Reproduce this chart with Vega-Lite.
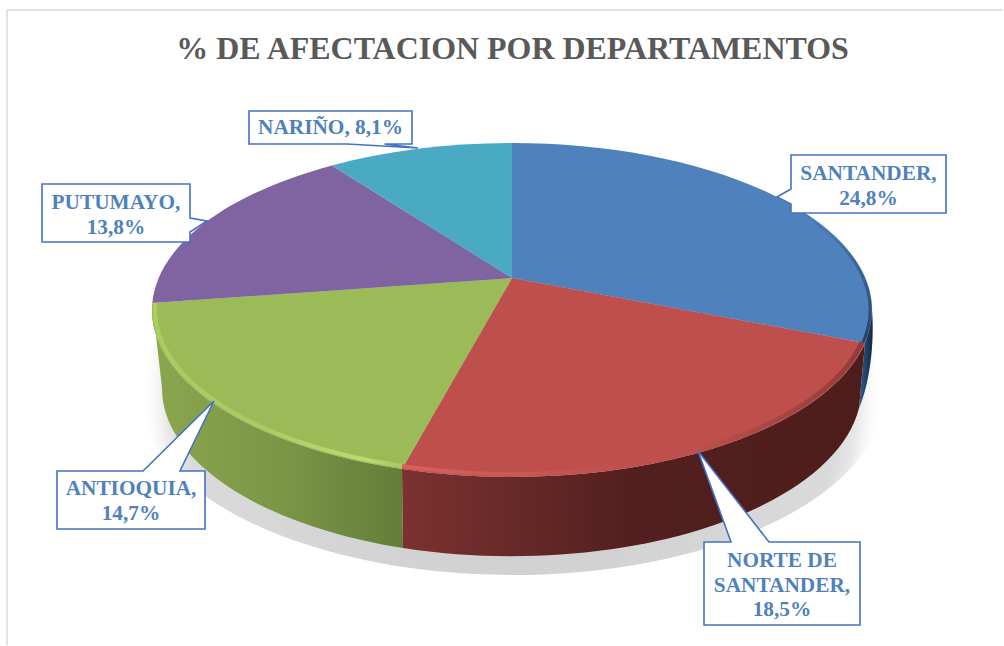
{
"$schema":"https://vega.github.io/schema/vega-lite/v6.json",
"width":1004,"height":646,"padding":0,"autosize":{"type":"none"},
"background":"white",
"config":{"view":{"stroke":null}},
"resolve":{"scale":{"shape":"independent","fill":"independent","y":"independent"}},
"data":{"values":[
{"dept":"SANTANDER","value":24.8,"label":"SANTANDER,|24,8%"},
{"dept":"NORTE DE SANTANDER","value":18.5,"label":"NORTE DE|SANTANDER,|18,5%"},
{"dept":"ANTIOQUIA","value":14.7,"label":"ANTIOQUIA,|14,7%"},
{"dept":"PUTUMAYO","value":13.8,"label":"PUTUMAYO,|13,8%"},
{"dept":"NARIÑO","value":8.1,"label":"NARIÑO, 8,1%"}
]},
"layer":[
{"transform":[{"filter":"datum.value==24.8"}],
 "mark":{"type":"point","shape":"M-495,-313 L501,-313 M-495,-313 L-495,322","filled":false,"stroke":"#d9d9d9","strokeWidth":1.5,"size":4,"opacity":1},"encoding":{}},
{"transform":[{"filter":"datum.value==24.8"}],
 "mark":{"type":"point","shape":"M-362,70 A372,182 0 1 1 382,70 A372,182 0 1 1 -362,70 Z","filled":true,"size":4,"opacity":1,
  "fill":{"gradient":"radial","x1":0.5,"y1":0.5,"r1":0,"x2":0.5,"y2":0.5,"r2":0.5,"stops":[{"offset":0,"color":"#c8c8c8"},{"offset":0.88,"color":"#dadada"},{"offset":0.93,"color":"#e8e8e8"},{"offset":1,"color":"rgba(255,255,255,0)"}]}},"encoding":{}},
{"transform":[{"filter":"datum.value==24.8"}],
 "mark":{"type":"point","shape":"M363,20 L370,-13 C373,25 366,65 357,85 Z","filled":true,"size":4,"opacity":1,
  "fill":{"gradient":"linear","x1":0,"y1":0,"x2":1,"y2":0,"stops":[{"offset":0,"color":"#2f5d8f"},{"offset":1,"color":"#14283f"}]}},"encoding":{}},
{"transform":[{"filter":"datum.value==18.5"}],
 "mark":{"type":"point","shape":"M363,20 A360,167 0 0 1 -100,146 L-99,225 A350,168 0 0 0 357,85 Z","filled":true,"size":4,"opacity":1,
  "fill":{"gradient":"linear","x1":0,"y1":0,"x2":1,"y2":0,"stops":[{"offset":0,"color":"#7c3130"},{"offset":0.25,"color":"#662927"},{"offset":0.5,"color":"#521f1e"},{"offset":1,"color":"#4d1d1c"}]}},"encoding":{}},
{"transform":[{"filter":"datum.value==14.7"}],
 "mark":{"type":"point","shape":"M-100,146 A360,167 0 0 1 -349.7,-20 L-340,65 A350,168 0 0 0 -99,225 Z","filled":true,"size":4,"opacity":1,
  "fill":{"gradient":"linear","x1":0,"y1":0,"x2":1,"y2":0,"stops":[{"offset":0,"color":"#8aa64e"},{"offset":0.5,"color":"#7b9747"},{"offset":0.8,"color":"#6e8740"},{"offset":1,"color":"#647d38"}]}},"encoding":{}},
{"mark":{"type":"point","filled":true,"size":4,"opacity":1},
 "encoding":{
  "shape":{"field":"dept","type":"nominal","legend":null,"scale":{
    "domain":["SANTANDER","NORTE DE SANTANDER","ANTIOQUIA","PUTUMAYO","NARIÑO"],
    "range":["M10,-45 L10,-180 A360,167 0 0 1 363,20 Z","M10,-45 L363,20 A360,167 0 0 1 -100,146 Z","M10,-45 L-100,146 A360,167 0 0 1 -349.7,-20 Z","M10,-45 L-349.7,-20 A360,167 0 0 1 -170,-157.6 Z","M10,-45 L-170,-157.6 A360,167 0 0 1 10,-180 Z"]}},
  "fill":{"field":"dept","type":"nominal","legend":null,"scale":{
    "domain":["SANTANDER","NORTE DE SANTANDER","ANTIOQUIA","PUTUMAYO","NARIÑO"],
    "range":["#4f81bd","#be4f4c","#9bbb59","#8064a2","#4aa9c3"]}}
 }},
{"transform":[{"filter":"datum.value==14.7"}],
 "mark":{"type":"point","shape":"M-100,143 A357,164 0 0 1 -346.7,-20","filled":false,"size":4,"opacity":1,"strokeWidth":4,
  "stroke":{"gradient":"linear","x1":0,"y1":0,"x2":1,"y2":0,"stops":[{"offset":0,"color":"#a9cf5f"},{"offset":0.4,"color":"#a8cc62"},{"offset":0.85,"color":"#bcdc70"},{"offset":1,"color":"#a8c862"}]}},"encoding":{}},
{"transform":[{"filter":"datum.value==18.5"}],
 "mark":{"type":"point","shape":"M-100,143 A357,164 0 0 0 190,128.6","filled":false,"size":4,"opacity":1,"strokeWidth":4,
  "stroke":{"gradient":"linear","x1":0,"y1":0,"x2":1,"y2":0,"stops":[{"offset":0,"color":"#d9605e"},{"offset":0.4,"color":"#c95855"},{"offset":1,"color":"rgba(190,79,76,0)"}]}},"encoding":{}},
{"transform":[{"filter":"datum.value==18.5"}],
 "mark":{"type":"point","shape":"M190,128.6 A357,164 0 0 0 360,19","filled":false,"size":4,"opacity":1,"strokeWidth":5,
  "stroke":{"gradient":"linear","x1":0,"y1":0,"x2":1,"y2":0,"stops":[{"offset":0,"color":"rgba(110,44,42,0)"},{"offset":1,"color":"rgba(110,44,42,0.55)"}]}},"encoding":{}},
{"transform":[{"filter":"datum.value==24.8"}],
 "mark":{"type":"point","shape":"M290,-116 A358,165 0 0 1 361,19.5","filled":false,"size":4,"opacity":1,"strokeWidth":3,
  "stroke":{"gradient":"linear","x1":0,"y1":0,"x2":0,"y2":1,"stops":[{"offset":0,"color":"rgba(31,58,90,0)"},{"offset":1,"color":"rgba(31,58,90,0.9)"}]}},"encoding":{}},
{"mark":{"type":"point","filled":true,"size":4,"opacity":1,"fill":"#ffffff","fillOpacity":1,"stroke":"#4472c4","strokeWidth":1.6,"strokeJoin":"miter"},
 "encoding":{
  "x":{"field":"value","type":"quantitative","axis":null,"scale":{"domain":[8.1,13.8,14.7,18.5,24.8],"range":[330.5,116,131,782,868.5]}},
  "y":{"field":"value","type":"quantitative","axis":null,"scale":{"domain":[8.1,13.8,14.7,18.5,24.8],"range":[127.5,213,500,583.5,184]}},
  "shape":{"field":"dept","type":"nominal","legend":null,"scale":{
    "domain":["SANTANDER","NORTE DE SANTANDER","ANTIOQUIA","PUTUMAYO","NARIÑO"],
    "range":["M-77.5,-29 L77.5,-29 L77.5,29 L-77.5,29 L-77.5,20 L-91.5,13 L-77.5,5 Z","M-78,-41.5 L-51,-41.5 L-84,-132.5 L-13,-41.5 L78,-41.5 L78,41.5 L-78,41.5 Z","M-74,-29 L12,-29 L83,-99 L49,-29 L74,-29 L74,29 L-74,29 Z","M-74,-29 L74,-29 L74,5 L91,8 L74,19 L74,29 L-74,29 Z","M-81.5,-16.5 L81.5,-16.5 L81.5,16.5 L54,16.5 L87.5,20.5 L16.5,16.5 L-81.5,16.5 Z"]}}
 }},
{"mark":{"type":"text","font":"Liberation Serif","fontWeight":"bold","fontSize":21.3,"lineHeight":24.5,"lineBreak":"|","color":"#4f81bd","align":"center","baseline":"middle"},
 "encoding":{
  "x":{"field":"value","type":"quantitative","axis":null,"scale":{"domain":[8.1,13.8,14.7,18.5,24.8],"range":[330.5,116,131,782,868.5]}},
  "y":{"field":"value","type":"quantitative","axis":null,"scale":{"domain":[8.1,13.8,14.7,18.5,24.8],"range":[128,203,489,561,174]}},
  "text":{"field":"label","type":"nominal"}
 }},
{"transform":[{"filter":"datum.value==24.8"}],
 "mark":{"type":"text","text":"% DE AFECTACION POR DEPARTAMENTOS","font":"Liberation Serif","fontWeight":"bold","fontSize":31.95,"color":"#595959","align":"center","baseline":"middle","dx":10.5,"dy":-274},"encoding":{}}
]}
